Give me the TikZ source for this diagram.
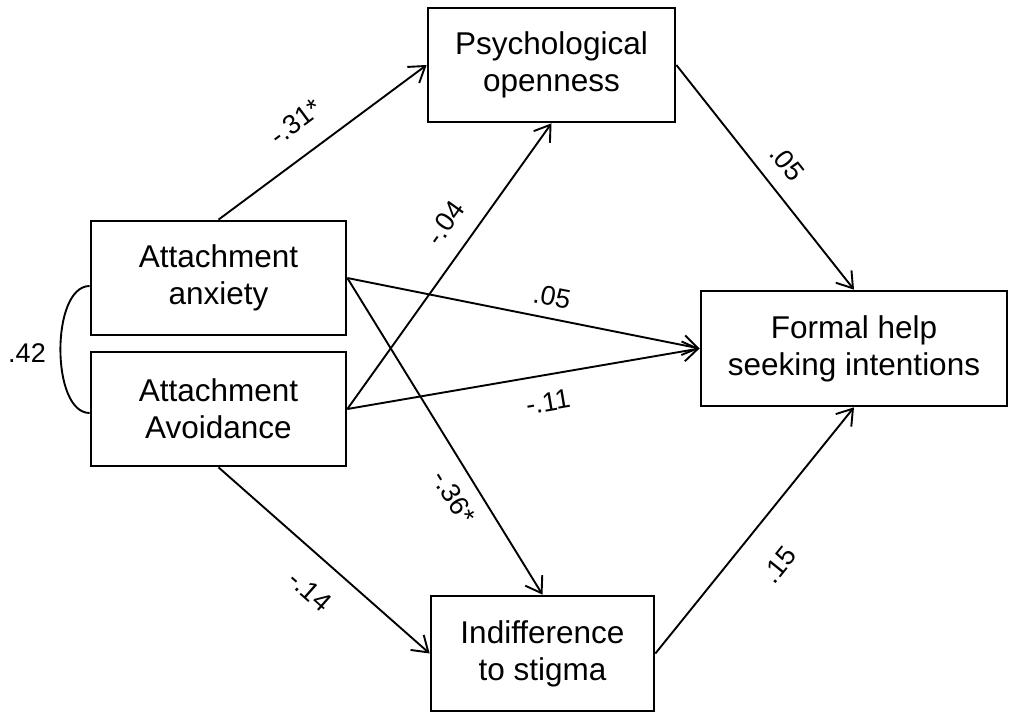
\documentclass[tikz,border=0pt]{standalone}
\usepackage{fontspec}
\setmainfont{Liberation Sans}
\usetikzlibrary{arrows.meta,calc}
\begin{document}
\begin{tikzpicture}[x=1pt,y=-1pt,
  box/.style={draw, line width=2.7pt, inner sep=0pt, align=center,
    font=\fontsize{31.5}{37}\selectfont},
  conn/.style={line width=1.9pt, -{Straight Barb[length=15pt,width=20pt,line width=1.9pt]}},
  lbl/.style={inner sep=0pt, font=\fontsize{27}{32}\selectfont}]
\useasboundingbox (0,0) rectangle (1011,714);
% boxes
\node[box, minimum width=247pt, minimum height=114pt] (psy) at (551.5,65) {Psychological\\openness};
\node[box, minimum width=255pt, minimum height=114pt] (anx) at (218.5,278) {Attachment\\anxiety};
\node[box, minimum width=255pt, minimum height=114pt] (avo) at (218.5,409) {Attachment\\Avoidance};
\node[box, minimum width=306pt, minimum height=115pt] (fhs) at (854,348.5) {Formal help\\seeking intentions};
\node[box, minimum width=223pt, minimum height=115pt] (ind) at (542.5,653.5) {Indifference\\to stigma};
% connectors
\draw[conn] (anx.north) -- (psy.west);
\draw[conn] (avo.east) -- (psy.south);
\draw[conn] (anx.east) -- (fhs.west);
\draw[conn] (avo.east) -- (fhs.west);
\draw[conn] (anx.east) -- (ind.north);
\draw[conn] (avo.south) -- (ind.west);
\draw[conn] (psy.east) -- (fhs.north);
\draw[conn] (ind.east) -- (fhs.south);
% correlation
\coordinate (c1) at ($(anx.west)+(0,8)$);
\coordinate (c2) at ($(avo.west)+(0,4)$);
\draw[line width=1.9pt] (c1) .. controls ($(c1)+(-39,0)$) and ($(c2)+(-39,0)$) .. (c2);
% labels
\node[lbl] (r) at (27,353) {.42};
\node[lbl, rotate=36.6] (l1) at (296,122) {-.31*};
\node[lbl, rotate=54.5] (l2) at (445,223) {-.04};
\node[lbl, rotate=-11.2] (l3) at (552,297) {.05};
\node[lbl, rotate=9.7] (l4) at (548,402) {-.11};
\node[lbl, rotate=-58.3] (l5) at (454,497) {-.36*};
\node[lbl, rotate=-41.4] (l6) at (310,591) {-.14};
\node[lbl, rotate=-51.6] (l7) at (787,163) {.05};
\node[lbl, rotate=51.1] (l8) at (779,565) {.15};
\end{tikzpicture}
\end{document}
